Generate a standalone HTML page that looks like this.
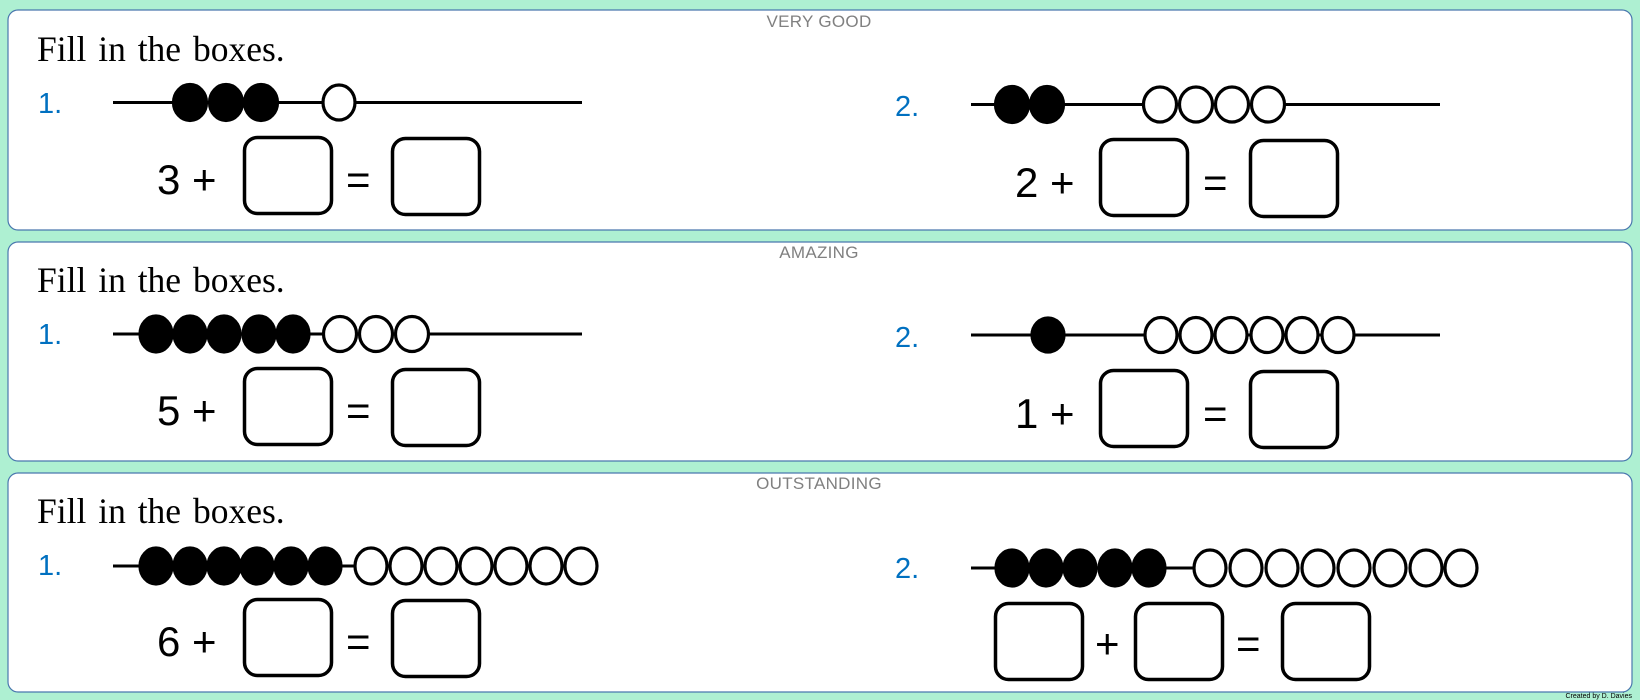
<!DOCTYPE html>
<html><head><meta charset="utf-8"><style>
html,body{margin:0;padding:0;background:#aef0d2;}
svg{display:block}
</style></head><body>
<svg width="1640" height="700" viewBox="0 0 1640 700" xmlns="http://www.w3.org/2000/svg">
<rect width="1640" height="700" fill="#aef0d2"/>
<defs>
<g id="box"><rect x="1.5" y="1.5" width="87" height="76" rx="13" fill="#fff" stroke="#000" stroke-width="3.5"/></g>
</defs>
<g fill="#fff" stroke="#4a78ae" stroke-width="1.2">
<rect x="8" y="10" width="1624" height="220" rx="10"/>
<rect x="8" y="242" width="1624" height="219" rx="10"/>
<rect x="8" y="473" width="1624" height="219" rx="10"/>
</g>
<g font-family="'Liberation Sans',sans-serif" font-size="17" fill="#808080" text-anchor="middle" style="letter-spacing:0.3px">
<text x="819" y="27">VERY GOOD</text>
<text x="819" y="258">AMAZING</text>
<text x="819" y="489">OUTSTANDING</text>
</g>
<g font-family="'Liberation Serif',serif" font-size="35.5" fill="#000" style="word-spacing:3px">
<text x="37" y="61">Fill in the boxes.</text>
<text x="37" y="292">Fill in the boxes.</text>
<text x="37" y="523">Fill in the boxes.</text>
</g>
<g font-family="'Liberation Sans',sans-serif" font-size="29" fill="#0070c0">
<text x="38" y="113">1.</text><text x="895" y="116">2.</text>
<text x="38" y="344">1.</text><text x="895" y="347">2.</text>
<text x="38" y="575">1.</text><text x="895" y="578">2.</text>
</g>
<g stroke="#000" stroke-width="3">
<line x1="113" y1="102.5" x2="582" y2="102.5"/>
<line x1="971" y1="104.5" x2="1440" y2="104.5"/>
<line x1="113" y1="334" x2="582" y2="334"/>
<line x1="971" y1="335" x2="1440" y2="335"/>
<line x1="113" y1="566" x2="360" y2="566"/>
<line x1="971" y1="568" x2="1200" y2="568"/>
</g>
<g stroke="#000" stroke-width="3.2">
<g fill="#000">
<ellipse cx="190" cy="102.5" rx="16.5" ry="18"/><ellipse cx="226" cy="102.5" rx="16.5" ry="18"/><ellipse cx="261" cy="102.5" rx="16.5" ry="18"/>
<ellipse cx="1012" cy="104.5" rx="16.5" ry="18"/><ellipse cx="1047" cy="104.5" rx="16.5" ry="18"/>
<ellipse cx="156" cy="334" rx="16" ry="18"/><ellipse cx="190" cy="334" rx="16" ry="18"/><ellipse cx="224" cy="334" rx="16" ry="18"/><ellipse cx="259" cy="334" rx="16" ry="18"/><ellipse cx="293" cy="334" rx="16" ry="18"/>
<ellipse cx="1048" cy="335" rx="16" ry="17"/>
<ellipse cx="156" cy="566" rx="16" ry="18"/><ellipse cx="190" cy="566" rx="16" ry="18"/><ellipse cx="224" cy="566" rx="16" ry="18"/><ellipse cx="257" cy="566" rx="16" ry="18"/><ellipse cx="291" cy="566" rx="16" ry="18"/><ellipse cx="325" cy="566" rx="16" ry="18"/>
<ellipse cx="1012" cy="568" rx="16" ry="18"/><ellipse cx="1046" cy="568" rx="16" ry="18"/><ellipse cx="1080" cy="568" rx="16" ry="18"/><ellipse cx="1115" cy="568" rx="16" ry="18"/><ellipse cx="1149" cy="568" rx="16" ry="18"/>
</g>
<g fill="#fff">
<ellipse cx="339" cy="102.5" rx="16" ry="17.5"/>
<ellipse cx="1160" cy="104.5" rx="16.5" ry="17.5"/><ellipse cx="1196" cy="104.5" rx="16.5" ry="17.5"/><ellipse cx="1232" cy="104.5" rx="16.5" ry="17.5"/><ellipse cx="1268" cy="104.5" rx="16.5" ry="17.5"/>
<ellipse cx="340" cy="334" rx="16.5" ry="17.5"/><ellipse cx="376" cy="334" rx="16.5" ry="17.5"/><ellipse cx="412" cy="334" rx="16.5" ry="17.5"/>
<ellipse cx="1161" cy="335" rx="16" ry="17.5"/><ellipse cx="1196" cy="335" rx="16" ry="17.5"/><ellipse cx="1231" cy="335" rx="16" ry="17.5"/><ellipse cx="1267" cy="335" rx="16" ry="17.5"/><ellipse cx="1302" cy="335" rx="16" ry="17.5"/><ellipse cx="1338" cy="335" rx="16" ry="17.5"/>
<ellipse cx="371" cy="566" rx="16" ry="18"/><ellipse cx="406" cy="566" rx="16" ry="18"/><ellipse cx="441" cy="566" rx="16" ry="18"/><ellipse cx="476" cy="566" rx="16" ry="18"/><ellipse cx="511" cy="566" rx="16" ry="18"/><ellipse cx="546" cy="566" rx="16" ry="18"/><ellipse cx="581" cy="566" rx="16" ry="18"/>
<ellipse cx="1210" cy="568" rx="16" ry="18"/><ellipse cx="1246" cy="568" rx="16" ry="18"/><ellipse cx="1282" cy="568" rx="16" ry="18"/><ellipse cx="1318" cy="568" rx="16" ry="18"/><ellipse cx="1354" cy="568" rx="16" ry="18"/><ellipse cx="1390" cy="568" rx="16" ry="18"/><ellipse cx="1426" cy="568" rx="16" ry="18"/><ellipse cx="1461" cy="568" rx="16" ry="18"/>
</g>
</g>
<g font-family="'Liberation Sans',sans-serif" font-size="42" fill="#000">
<text x="157" y="194">3 +</text><text x="346" y="194">=</text>
<text x="1015" y="197">2 +</text><text x="1203" y="197">=</text>
<text x="157" y="425">5 +</text><text x="346" y="425">=</text>
<text x="1015" y="428">1 +</text><text x="1203" y="428">=</text>
<text x="157" y="656">6 +</text><text x="346" y="656">=</text>
<text x="1095" y="658">+</text><text x="1236" y="658">=</text>
</g>
<use href="#box" x="243" y="136"/><use href="#box" x="391" y="137"/>
<use href="#box" x="1099" y="138"/><use href="#box" x="1249" y="139"/>
<use href="#box" x="243" y="367"/><use href="#box" x="391" y="368"/>
<use href="#box" x="1099" y="369"/><use href="#box" x="1249" y="370"/>
<use href="#box" x="243" y="598"/><use href="#box" x="391" y="599"/>
<use href="#box" x="994" y="602"/><use href="#box" x="1134" y="602"/><use href="#box" x="1281" y="602"/>
<text x="1632" y="698" text-anchor="end" font-family="'Liberation Sans',sans-serif" font-size="7" fill="#000">Created by D. Davies</text>
</svg>
</body></html>
